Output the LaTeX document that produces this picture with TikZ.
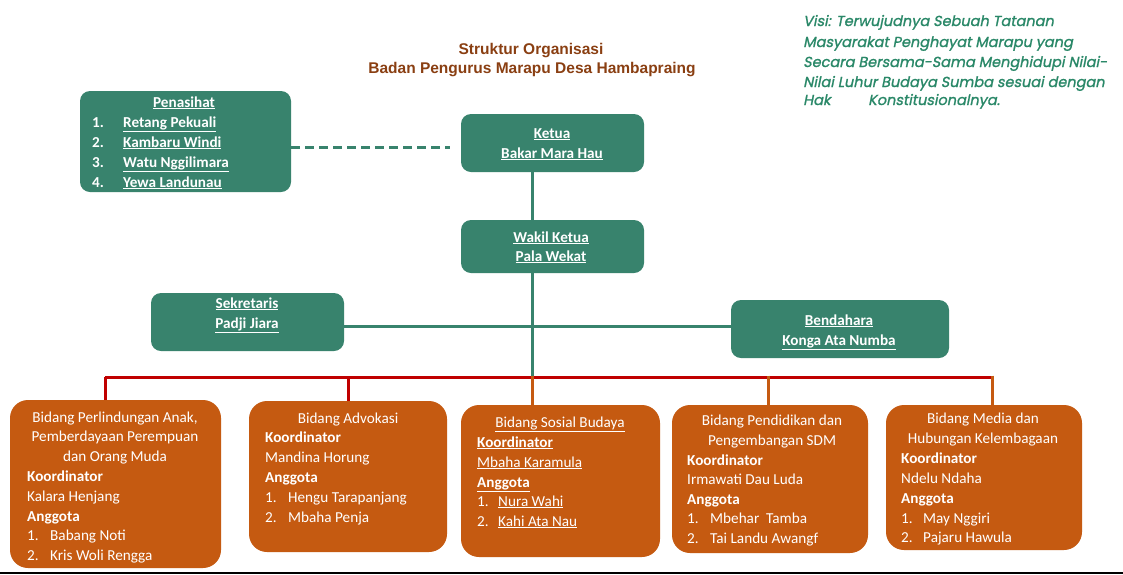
\documentclass[tikz,border=0pt]{standalone}
\usepackage{fontspec}
\setmainfont{Carlito}
\newfontfamily\titlefont{Liberation Sans}
\newfontfamily\visifont[FakeSlant=0.2,FakeBold=1.2]{Poppins}
\definecolor{gr}{HTML}{38836D}
\definecolor{vis}{HTML}{2A8868}
\definecolor{org}{HTML}{C55A11}
\definecolor{rd}{HTML}{C00000}
\definecolor{brn}{HTML}{8A3F12}
\begin{document}
\begin{tikzpicture}[x=1pt,y=-1pt,
  gbox/.style={fill=gr,draw=none,rounded corners=10pt,inner sep=0pt},
  obox/.style={fill=org,draw=none,rounded corners=18pt,inner sep=0pt},
  wt/.style={text=white,font=\fontsize{15.2}{18}\selectfont,inner sep=0pt,anchor=base},
  wl/.style={wt,anchor=base west},
  gline/.style={draw=gr,line width=3pt},
  rline/.style={draw=rd,line width=3pt},
  oline/.style={draw=org,line width=3pt},
  vt/.style={text=vis,font=\visifont\fontsize{14.5}{18}\selectfont,inner sep=0pt,anchor=base west},
  tt/.style={text=brn,font=\titlefont\bfseries\fontsize{15.5}{18}\selectfont,inner sep=0pt,anchor=base}]
\useasboundingbox (0,0) rectangle (1123,574);
\fill[white] (0,0) rectangle (1123,574);

% title
\node[tt] (title1) at (531,54) {Struktur Organisasi};
\node[tt] (title2) at (532,73) {Badan Pengurus Marapu Desa Hambapraing};

% visi
\node[vt] (v1) at (803,26) {Visi: Terwujudnya Sebuah Tatanan};
\node[vt] (v2) at (803,47) {Masyarakat Penghayat Marapu yang};
\node[vt] (v3) at (803,67) {Secara Bersama-Sama Menghidupi Nilai-};
\node[vt] (v4) at (803,87) {Nilai Luhur Budaya Sumba sesuai dengan};
\node[vt] (v5a) at (803,105) {Hak};
\node[vt] (v5b) at (868,105) {Konstitusionalnya.};

% coordinates for connectors
\coordinate (vx) at (532,0);
\coordinate (bus) at (532,377);
\coordinate (busL) at (105,377);
\coordinate (busR) at (992,377);
\coordinate (d2) at (348,377);
\coordinate (d4) at (768,377);
\coordinate (hl) at (532,326);
\coordinate (dashY) at (0,147);
\coordinate (dashEnd) at (450,147);

% green boxes
\node[gbox,minimum width=211pt,minimum height=101pt] (pen) at (185.5,141.5) {};
\node[gbox,minimum width=183pt,minimum height=58pt] (ketua) at (552.5,143) {};
\node[gbox,minimum width=183pt,minimum height=53pt] (wakil) at (552.5,246.5) {};
\node[gbox,minimum width=193pt,minimum height=58pt] (sek) at (247.5,322) {};
\node[gbox,minimum width=218pt,minimum height=58pt] (ben) at (840,329) {};

% orange boxes
\node[obox,minimum width=211pt,minimum height=168pt] (b1) at (115.5,484) {};
\node[obox,minimum width=198pt,minimum height=151pt] (b2) at (348,476.5) {};
\node[obox,minimum width=199pt,minimum height=152pt] (b3) at (560.5,481) {};
\node[obox,minimum width=196pt,minimum height=148pt] (b4) at (770,479) {};
\node[obox,minimum width=196pt,minimum height=145pt] (b5) at (984,477.5) {};

% connectors
\draw[gline,dash pattern=on 9pt off 5pt] (pen.east |- dashY) -- (dashEnd);
\draw[gline] (vx |- ketua.south) -- (vx |- wakil.north);
\draw[gline] (vx |- wakil.south) -- (bus);
\draw[gline] (sek.east |- hl) -- (ben.west |- hl);
\draw[rline] (busL) -- (busR);
\draw[rline] (busL) -- (busL |- b1.north);
\draw[rline] (d2) -- (d2 |- b2.north);
\draw[oline] ([yshift=1.5pt]bus) -- (bus |- b3.north);
\draw[oline] ([yshift=1.5pt]d4) -- (d4 |- b4.north);
\draw[oline] ([yshift=1.5pt]busR) -- (busR |- b5.north);

% green texts
\node[wt] (pent) at (184,107) {\bfseries\underline{Penasihat}};
\foreach \n/\nm [count=\i] in {1/Retang Pekuali,2/Kambaru Windi,3/Watu Nggilimara,4/Yewa Landunau}{
  \node[wl] (pn\i) at (92,{107+20*\i}) {\bfseries\n.};
  \node[wl] (pm\i) at (123,{107+20*\i}) {\bfseries\underline{\nm}};
}
\node[wt] (k1) at (552,138) {\bfseries\underline{Ketua}};
\node[wt] (k2) at (552,158) {\bfseries\underline{Bakar Mara Hau}};
\node[wt] (w1) at (551,242) {\bfseries\underline{Wakil Ketua}};
\node[wt] (w2) at (551,261) {\bfseries\underline{Pala Wekat}};
\node[wt] (s1) at (247,308) {\bfseries\underline{Sekretaris}};
\node[wt] (s2) at (247,328) {\bfseries\underline{Padji Jiara}};
\node[wt] (be1) at (839,325) {\bfseries\underline{Bendahara}};
\node[wt] (be2) at (839,345) {\bfseries\underline{Konga Ata Numba}};

% box 1
\node[wt] (a1) at (115,422) {Bidang Perlindungan Anak,};
\node[wt] (a2) at (115,441) {Pemberdayaan Perempuan};
\node[wt] (a3) at (115,461) {dan Orang Muda};
\node[wl] (a4) at (27,481) {\bfseries Koordinator};
\node[wl] (a5) at (27,501) {Kalara Henjang};
\node[wl] (a6) at (27,521) {\bfseries Anggota};
\node[wl] (a7) at (27,540) {1.};
\node[wl] (a8) at (50,540) {Babang Noti};
\node[wl] (a9) at (27,560) {2.};
\node[wl] (a10) at (50,560) {Kris Woli Rengga};

% box 2
\node[wt] (c1) at (348,423) {Bidang Advokasi};
\node[wl] (c2) at (265,442) {\bfseries Koordinator};
\node[wl] (c3) at (265,462) {Mandina Horung};
\node[wl] (c4) at (265,482) {\bfseries Anggota};
\node[wl] (c5) at (265,502) {1.};
\node[wl] (c6) at (288,502) {Hengu Tarapanjang};
\node[wl] (c7) at (265,522) {2.};
\node[wl] (c8) at (288,522) {Mbaha Penja};

% box 3
\node[wt] (e1) at (560,427) {\underline{Bidang Sosial Budaya}};
\node[wl] (e2) at (477,447) {\bfseries\underline{Koordinator}};
\node[wl] (e3) at (477,467) {\underline{Mbaha Karamula}};
\node[wl] (e4) at (477,487) {\bfseries\underline{Anggota}};
\node[wl] (e5) at (477,506) {1.};
\node[wl] (e6) at (498,506) {\underline{Nura Wahi}};
\node[wl] (e7) at (477,526) {2.};
\node[wl] (e8) at (498,526) {\underline{Kahi Ata Nau}};

% box 4
\node[wt] (f1) at (772,425) {Bidang Pendidikan dan};
\node[wt] (f2) at (772,445) {Pengembangan SDM};
\node[wl] (f3) at (687,465) {\bfseries Koordinator};
\node[wl] (f4) at (687,484) {Irmawati Dau Luda};
\node[wl] (f5) at (687,504) {\bfseries Anggota};
\node[wl] (f6) at (687,523) {1.};
\node[wl] (f7) at (710,523) {Mbehar\ \ Tamba};
\node[wl] (f8) at (687,543) {2.};
\node[wl] (f9) at (710,543) {Tai Landu Awangf};

% box 5
\node[wt] (g1) at (983,423) {Bidang Media dan};
\node[wt] (g2) at (983,443) {Hubungan Kelembagaan};
\node[wl] (g3) at (901,463) {\bfseries Koordinator};
\node[wl] (g4) at (901,483) {Ndelu Ndaha};
\node[wl] (g5) at (901,503) {\bfseries Anggota};
\node[wl] (g6) at (901,523) {1.};
\node[wl] (g7) at (923,523) {May Nggiri};
\node[wl] (g8) at (901,542) {2.};
\node[wl] (g9) at (923,542) {Pajaru Hawula};

% bottom rule
\coordinate (bl) at (0,572.5);
\coordinate (br) at (1123,572.5);
\draw[black,line width=2pt] (bl) -- (br);
\end{tikzpicture}
\end{document}
